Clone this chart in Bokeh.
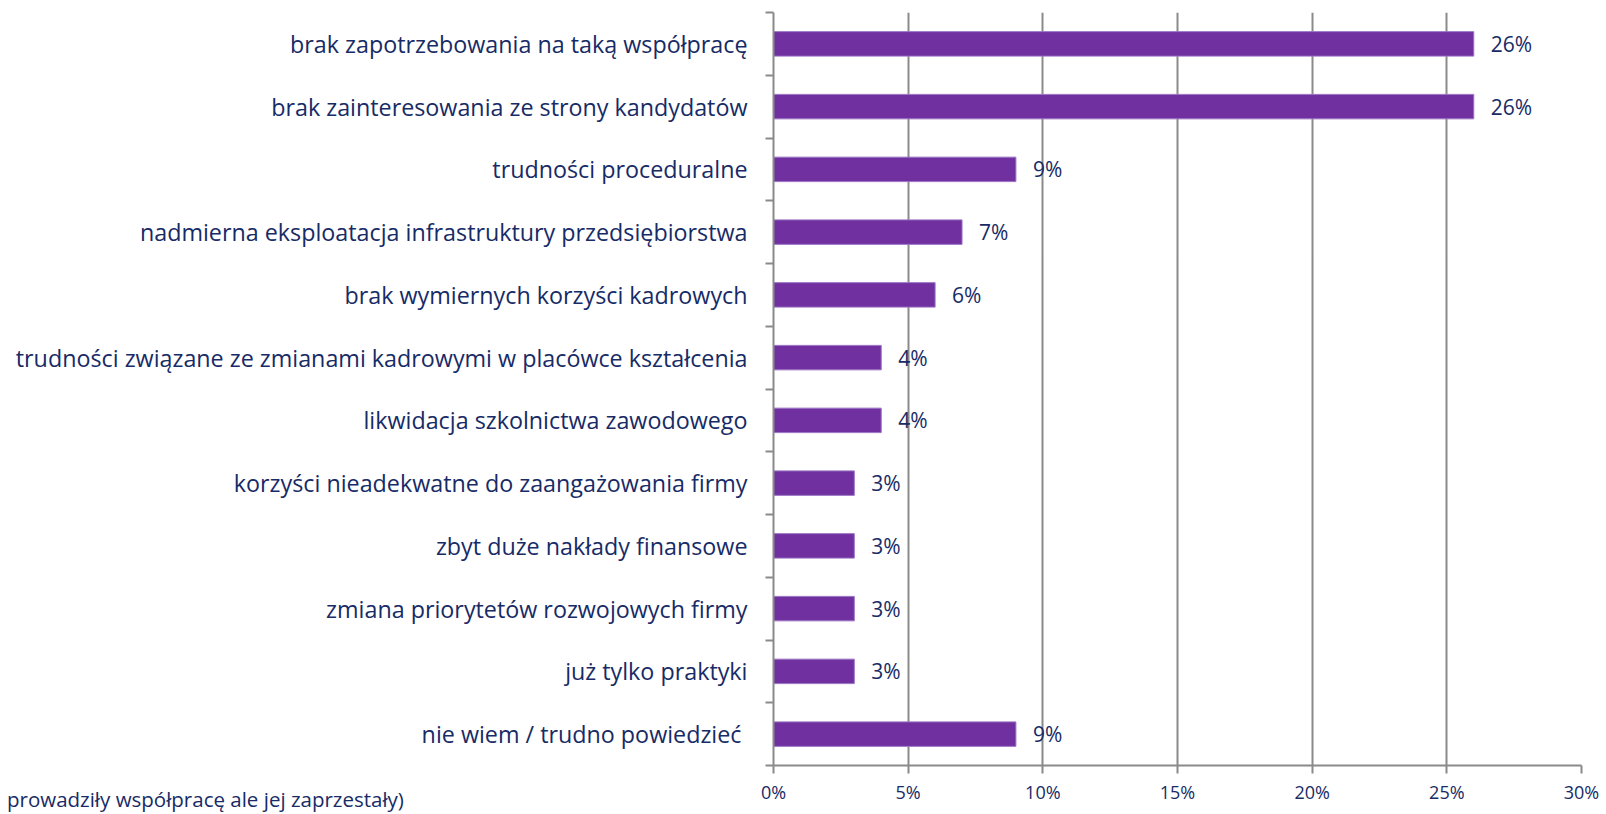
from bokeh.plotting import figure
from bokeh.models import FixedTicker, Range1d, ColumnDataSource, LabelSet, PrintfTickFormatter, Div
from bokeh.layouts import column
from bokeh.embed import file_html
from bokeh.resources import INLINE
from bokeh.core.properties import value

categories = [
    "brak zapotrzebowania na taką współpracę",
    "brak zainteresowania ze strony kandydatów",
    "trudności proceduralne",
    "nadmierna eksploatacja infrastruktury przedsiębiorstwa",
    "brak wymiernych korzyści kadrowych",
    "trudności związane ze zmianami kadrowymi w placówce kształcenia",
    "likwidacja szkolnictwa zawodowego",
    "korzyści nieadekwatne do zaangażowania firmy",
    "zbyt duże nakłady finansowe",
    "zmiana priorytetów rozwojowych firmy",
    "już tylko praktyki",
    "nie wiem / trudno powiedzieć ",
]
values = [26, 26, 9, 7, 6, 4, 4, 3, 3, 3, 3, 9]
x_ticks = [0, 5, 10, 15, 20, 25, 30]
footnote = "prowadziły współpracę ale jej zaprzestały)"

FONT = "Open Sans"
TEXT = "#172b66"
GRAY = "#8a8a8a"
BAR = "#7030a0"

n = len(categories)
ypos = [n - i - 0.5 for i in range(n)]
src = ColumnDataSource(dict(y=ypos, v=values, lab=[f"{v}%" for v in values]))

p = figure(width=1606, height=814, x_range=Range1d(0, 30), y_range=Range1d(0, n),
           output_backend="svg", toolbar_location=None,
           min_border_left=773, min_border_right=25, min_border_top=12, min_border_bottom=49)
p.outline_line_color = None
p.background_fill_color = "white"
p.border_fill_color = "white"

p.hbar(y="y", right="v", left=0, height=0.39, source=src,
       fill_color=BAR, line_color="#9b73c4", line_width=1)

p.add_layout(LabelSet(x="v", y="y", text="lab", source=src, x_offset=17,
                      text_baseline="middle", text_font=value(FONT), text_font_size=value("21px"),
                      text_color=TEXT))

# x axis
p.xaxis.ticker = FixedTicker(ticks=x_ticks, minor_ticks=[])
p.xaxis.formatter = PrintfTickFormatter(format="%d%%")
p.xaxis.axis_line_color = GRAY
p.xaxis.axis_line_width = 2
p.xaxis.major_tick_line_color = GRAY
p.xaxis.major_tick_line_width = 2
p.xaxis.major_tick_out = 8
p.xaxis.major_tick_in = 0
p.xaxis.minor_tick_line_color = None
p.xaxis.major_label_text_font = FONT
p.xaxis.major_label_text_font_size = "18px"
p.xaxis.major_label_text_color = TEXT
p.xaxis.major_label_standoff = 6

# y axis with ticks at category boundaries
p.yaxis.ticker = FixedTicker(ticks=ypos, minor_ticks=list(range(n + 1)))
p.yaxis.major_label_overrides = {y: c for y, c in zip(ypos, categories)}
p.yaxis.axis_line_color = GRAY
p.yaxis.axis_line_width = 2
p.yaxis.major_tick_line_color = None
p.yaxis.major_tick_out = 0
p.yaxis.major_tick_in = 0
p.yaxis.minor_tick_line_color = GRAY
p.yaxis.minor_tick_line_width = 2
p.yaxis.minor_tick_out = 8
p.yaxis.minor_tick_in = 0
p.yaxis.major_label_text_font = FONT
p.yaxis.major_label_text_font_size = "23.3px"
p.yaxis.major_label_text_color = TEXT
p.yaxis.major_label_standoff = 18

p.xgrid.ticker = FixedTicker(ticks=x_ticks)
p.xgrid.grid_line_color = GRAY
p.xgrid.grid_line_width = 2
p.ygrid.grid_line_color = None

note = Div(text=footnote, margin=(-27, 0, 0, 7),
           styles={"font-family": FONT, "font-size": "20.5px", "color": TEXT,
                   "line-height": "24px", "white-space": "nowrap"})

layout = column(p, note, spacing=0)
open("out.html", "w").write(file_html(layout, INLINE))
